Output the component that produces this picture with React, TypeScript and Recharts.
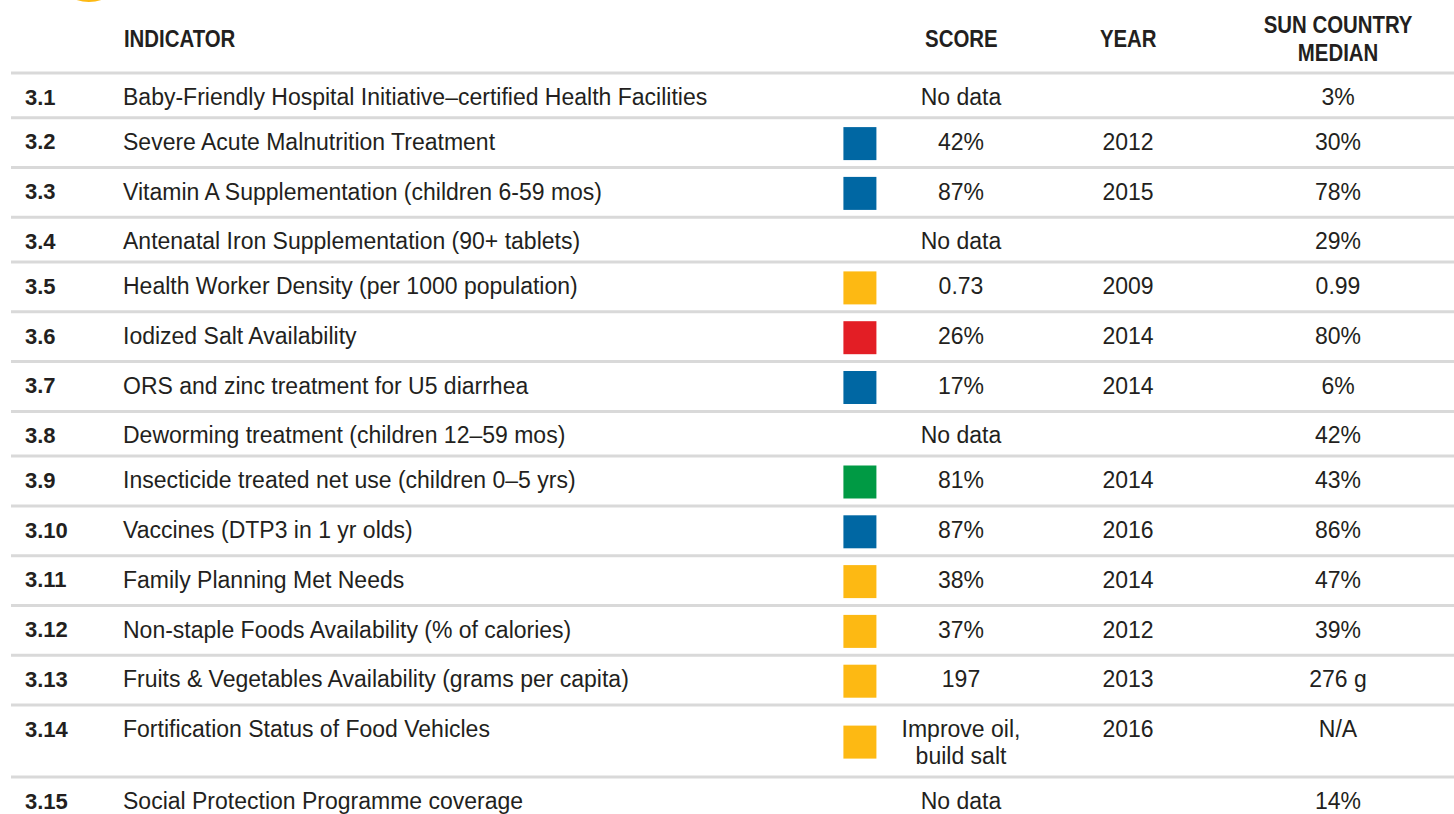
import { ScatterChart, Scatter, XAxis, YAxis, ReferenceLine, ReferenceDot, Cell } from 'recharts';

// table contents, one entry per indicator row
const rowIds = ['3.1', '3.2', '3.3', '3.4', '3.5', '3.6', '3.7', '3.8', '3.9', '3.10', '3.11', '3.12', '3.13', '3.14', '3.15'];
const indicators = [
  'Baby-Friendly Hospital Initiative–certified Health Facilities',
  'Severe Acute Malnutrition Treatment',
  'Vitamin A Supplementation (children 6-59 mos)',
  'Antenatal Iron Supplementation (90+ tablets)',
  'Health Worker Density (per 1000 population)',
  'Iodized Salt Availability',
  'ORS and zinc treatment for U5 diarrhea',
  'Deworming treatment (children 12–59 mos)',
  'Insecticide treated net use (children 0–5 yrs)',
  'Vaccines (DTP3 in 1 yr olds)',
  'Family Planning Met Needs',
  'Non-staple Foods Availability (% of calories)',
  'Fruits & Vegetables Availability (grams per capita)',
  'Fortification Status of Food Vehicles',
  'Social Protection Programme coverage',
];
const scores = ['No data', '42%', '87%', 'No data', '0.73', '26%', '17%', 'No data', '81%', '87%', '38%', '37%', '197', 'Improve oil,\nbuild salt', 'No data'];
const years = ['', '2012', '2015', '', '2009', '2014', '2014', '', '2014', '2016', '2014', '2012', '2013', '2016', ''];
const medians = ['3%', '30%', '78%', '29%', '0.99', '80%', '6%', '42%', '43%', '86%', '47%', '39%', '276 g', 'N/A', '14%'];
const ratings = [null, 'blue', 'blue', null, 'yellow', 'red', 'blue', null, 'green', 'blue', 'yellow', 'yellow', 'yellow', 'yellow', null];

const headers = ['INDICATOR', 'SCORE', 'YEAR', 'SUN COUNTRY\nMEDIAN'];

const COLORS: Record<string, string> = {
  blue: '#0067a3',
  yellow: '#fdb913',
  red: '#e31e25',
  green: '#009a44',
};

const W = 1454;
const H = 814;
const HEAD = 73;
const INK = '#231f20';
const FONT = "'Liberation Sans', Arial, sans-serif";

// column anchors (x axis runs in pixels)
const COL = { num: 25, ind: 123, sq: 859.5, score: 961, year: 1128, median: 1338 };
const headerX = [COL.ind, COL.score, COL.year, COL.median];

// row heights: taller rows for a two-line score, slightly taller when a rating square is drawn
const rowHeight = (i: number) =>
  scores[i].includes('\n') ? 72 : ratings[i] ? 49.8 : 44.7;

const rows = rowIds.map((id, i) => {
  let top = 0;
  for (let k = 0; k < i; k++) top += rowHeight(k);
  return { i, id, top, center: top + rowHeight(i) / 2, textY: top + 24 };
});

const squares = rows
  .filter((r) => ratings[r.i])
  .map((r) => ({ x: COL.sq, y: r.center + 1, rating: ratings[r.i] as string }));

// condensed bold header, squeezed horizontally
const HeaderTick = (props: any) => {
  const idx = headerX.indexOf(props.payload.value);
  if (idx < 0) return null;
  const lines = headers[idx].split('\n');
  const anchor = idx === 0 ? 'start' : 'middle';
  const ys = lines.length > 1 ? [25, 53] : [39];
  return (
    <g>
      {lines.map((ln, k) => (
        <text
          key={k}
          transform={`translate(${props.x},${ys[k]}) scale(0.85,1)`}
          dy="0.35em"
          textAnchor={anchor}
          fontFamily={FONT}
          fontWeight="bold"
          fontSize={24}
          fill={INK}
        >
          {ln}
        </text>
      ))}
    </g>
  );
};

const RowTick = (props: any) => {
  const v = props.payload ? props.payload.value : props.value;
  const r = rows.find((row) => Math.abs(row.textY - v) < 0.01);
  if (!r) return null;
  const y = props.y;
  const common = { fontFamily: FONT, fontSize: 23, fill: INK, dy: '0.35em' };
  const scoreLines = scores[r.i].split('\n');
  return (
    <g>
      <text x={COL.num} y={y} {...common} fontSize={22} fontWeight="bold" textAnchor="start">{r.id}</text>
      <text x={COL.ind} y={y} {...common} textAnchor="start">{indicators[r.i]}</text>
      {scoreLines.map((ln, k) => (
        <text key={k} x={COL.score} y={y + k * 27} {...common} textAnchor="middle">{ln}</text>
      ))}
      <text x={COL.year} y={y} {...common} textAnchor="middle">{years[r.i]}</text>
      <text x={COL.median} y={y} {...common} textAnchor="middle">{medians[r.i]}</text>
    </g>
  );
};

const Square = (props: any) => (
  <rect x={props.cx - 16.5} y={props.cy - 16.5} width={33} height={33} fill={props.fill} />
);

function App() {
  return (
    <div style={{ position: 'absolute', left: 0, top: 0, background: '#fff' }}>
      <ScatterChart width={W} height={H} margin={{ top: 0, right: 0, bottom: 0, left: 0 }}>
        <XAxis
          type="number"
          dataKey="x"
          orientation="top"
          domain={[0, W]}
          height={HEAD}
          ticks={headerX}
          interval={0}
          tick={HeaderTick}
          axisLine={false}
          tickLine={false}
        />
        <YAxis
          type="number"
          dataKey="y"
          domain={[0, H - HEAD]}
          reversed
          width={1}
          ticks={rows.map((r) => r.textY)}
          interval={0}
          tick={RowTick}
          axisLine={false}
          tickLine={false}
          allowDecimals
        />
        <ReferenceDot x={88} y={-110} r={39} fill="#fdb913" stroke="none" ifOverflow="visible" />
        {rows.map((r) => (
          <ReferenceLine
            key={r.id}
            segment={[{ x: 10, y: r.top }, { x: W, y: r.top }]}
            stroke="#d9d9d9"
            strokeWidth={3}
            ifOverflow="visible"
          />
        ))}
        <Scatter data={squares} shape={Square} isAnimationActive={false}>
          {squares.map((s, k) => (
            <Cell key={k} fill={COLORS[s.rating]} />
          ))}
        </Scatter>
      </ScatterChart>
    </div>
  );
}

export default App;
